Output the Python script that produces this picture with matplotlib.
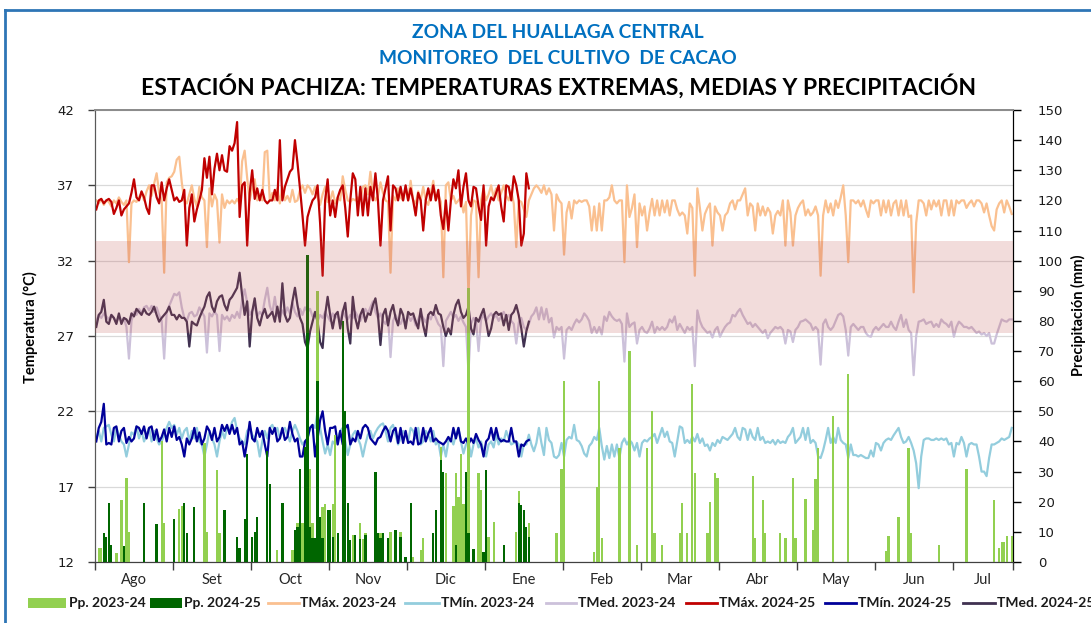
import matplotlib
matplotlib.use("Agg")
import matplotlib.pyplot as plt
from matplotlib.lines import Line2D
from matplotlib.patches import Rectangle
from matplotlib.transforms import blended_transform_factory

# ---------------- DATA ----------------
MONTHS = ["Ago", "Set", "Oct", "Nov", "Dic", "Ene", "Feb", "Mar", "Abr", "May", "Jun", "Jul"]
N_DAYS = 365
DAYS_PER_TICK = 31
BAND_TEMP = (27.2, 33.3)

TITLE_1 = "ZONA DEL HUALLAGA CENTRAL"
TITLE_2 = "MONITOREO  DEL CULTIVO  DE CACAO"
TITLE_3 = "ESTACIÓN PACHIZA: TEMPERATURAS EXTREMAS, MEDIAS Y PRECIPITACIÓN"

TMAX_23 = [
    36.0, 35.8, 36.1, 35.7, 36.0, 35.9, 35.6, 36.0, 35.8, 36.2,
    35.9, 35.7, 36.0, 31.9, 35.8, 36.0, 35.9, 36.2, 36.5, 36.0,
    36.6, 37.0, 36.3, 37.1, 37.8, 36.5, 36.0, 31.2, 37.2, 37.5,
    37.6, 37.9, 38.7, 38.9, 37.2, 36.0, 35.8, 36.4, 37.0, 36.1,
    35.6, 36.9, 36.2, 36.0, 32.9, 36.8, 35.6, 36.4, 36.0, 33.2,
    36.4, 35.5, 36.0, 35.8, 36.0, 35.8, 36.1, 35.8, 38.6, 39.3,
    37.5, 36.0, 36.8, 37.4, 36.0, 36.4, 36.0, 39.2, 39.3, 36.0,
    36.5, 36.0, 36.8, 35.8, 36.9, 36.0, 36.3, 35.9, 36.7, 35.9,
    36.0, 36.7, 37.0, 36.5, 37.0, 36.8, 36.4, 36.9, 36.2, 35.7,
    36.4, 36.9, 35.9, 36.0, 36.6, 35.8, 36.2, 36.0, 37.6, 36.7,
    36.0, 35.9, 36.1, 36.0, 36.2, 36.0, 36.9, 37.0, 36.4, 37.9,
    36.4, 36.0, 36.3, 37.2, 36.5, 36.0, 35.9, 31.2, 36.3, 36.0,
    36.8, 36.2, 36.0, 36.9, 36.0, 37.3, 36.0, 35.8, 36.6, 36.0,
    36.9, 36.0, 35.7, 36.5, 37.3, 36.0, 36.4, 35.9, 30.9, 37.0,
    37.2, 36.0, 36.3, 35.8, 36.0, 36.2, 35.2, 35.9, 29.6, 35.0,
    36.0, 35.9, 30.9, 36.0, 36.8, 36.0, 36.4, 37.0, 36.2, 36.8,
    36.0, 36.5, 37.0, 36.3, 36.0, 36.6, 35.8, 32.9, 36.0, 35.9,
    35.4, 34.9, 36.0, 36.4, 36.8, 37.0, 36.8, 36.5, 37.0, 36.4,
    36.8, 36.4, 34.0, 36.4, 36.0, 35.8, 32.4, 35.2, 35.9, 34.8,
    36.0, 35.8, 36.0, 35.9, 36.0, 36.0, 35.6, 34.0, 35.6, 34.0,
    35.8, 34.0, 36.0, 36.0, 36.2, 37.0, 36.0, 35.8, 36.0, 36.0,
    31.9, 37.0, 34.9, 35.5, 36.4, 32.9, 35.8, 35.0, 35.6, 34.0,
    35.2, 36.1, 35.0, 36.0, 35.0, 36.0, 35.2, 36.0, 35.0, 36.0,
    36.0, 35.4, 35.0, 35.2, 35.0, 33.8, 35.8, 35.5, 31.0, 36.8,
    35.5, 34.0, 35.1, 35.5, 35.8, 33.0, 35.6, 35.2, 35.0, 34.0,
    35.0, 35.2, 35.8, 36.0, 35.4, 36.0, 36.0, 36.4, 36.8, 35.0,
    35.8, 35.6, 34.0, 35.8, 35.0, 35.6, 35.0, 35.5, 35.2, 33.8,
    35.0, 35.3, 35.0, 36.0, 33.0, 36.0, 35.2, 33.0, 35.0, 35.5,
    35.8, 36.0, 35.0, 35.4, 35.0, 35.2, 35.6, 35.0, 31.0, 35.0,
    36.0, 35.2, 35.8, 35.0, 36.0, 35.5, 36.2, 37.0, 35.0, 31.9,
    36.0, 36.0, 35.8, 36.0, 35.6, 36.0, 35.4, 34.9, 36.0, 35.8,
    36.0, 36.0, 35.0, 36.0, 35.2, 36.0, 35.0, 35.8, 36.0, 35.0,
    36.0, 35.0, 36.0, 34.9, 35.0, 29.9, 34.5, 36.0, 36.0, 35.8,
    35.0, 36.0, 35.4, 36.0, 35.6, 36.0, 35.0, 36.0, 36.0, 35.0,
    36.0, 35.0, 36.0, 35.8, 36.0, 36.0, 35.5, 35.8, 36.0, 35.6,
    36.0, 36.0, 35.8, 35.2, 35.8, 35.0, 34.3, 34.0, 35.4, 35.8,
    36.0, 35.2, 36.0, 35.6, 35.1,
]

TMIN_23 = [
    20.2, 20.7, 20.0, 20.9, 21.0, 21.1, 20.45, 20.0, 20.9, 20.45,
    20.0, 19.8, 19.0, 19.8, 20.6, 20.45, 21.0, 20.2, 20.7, 20.0,
    20.45, 20.9, 20.0, 20.7, 20.2, 19.8, 20.0, 20.45, 20.9, 21.3,
    20.9, 21.1, 20.45, 20.9, 20.2, 20.7, 20.9, 20.0, 20.7, 20.2,
    20.9, 20.0, 19.8, 19.0, 19.8, 20.7, 20.2, 19.8, 19.0, 20.0,
    20.7, 20.2, 20.9, 20.7, 21.3, 21.56, 20.7, 20.2, 20.0, 19.8,
    20.7, 20.9, 20.45, 20.2, 20.0, 19.0, 20.0, 20.7, 20.2, 20.9,
    21.1, 20.7, 20.9, 20.2, 20.7, 20.9, 20.45, 20.0, 20.7, 21.1,
    20.7, 20.2, 19.8, 20.0, 20.2, 20.9, 21.1, 20.9,
    22.0, 20.9, 20.0, 19.2, 19.8, 19.1, 20.0, 19.8, 20.2, 20.7,
    20.9, 20.0, 19.1, 19.8, 20.45, 20.7, 20.2, 19.8, 19.0, 19.8,
    20.45, 20.7, 20.2, 20.6, 20.9, 21.1, 21.2, 20.7, 20.0, 20.9,
    21.1, 20.45, 19.8, 20.2, 20.7, 20.45, 20.0, 20.9, 20.7, 20.2,
    20.9, 19.8, 20.0, 20.7, 20.45, 20.0, 20.7, 19.8, 20.0, 19.0,
    19.8, 19.0, 20.0, 20.2, 19.8, 20.45, 20.9, 20.0, 19.2, 19.8,
    20.0, 19.0, 19.8, 20.2, 19.6, 20.0, 19.35, 19.0, 19.8, 20.0,
    19.6, 20.45, 19.8, 20.2, 20.0, 20.7, 20.2, 19.8, 19.9, 20.0,
    19.8, 19.0, 19.8, 19.8, 20.45, 19.8, 19.35,
    19.9, 20.9, 19.9, 19.1, 20.9, 20.1, 19.9, 19.0, 18.9, 19.1,
    19.9, 19.0, 20.1, 20.3, 20.2, 21.1, 20.1, 20.0, 19.7, 19.2,
    19.0, 19.7, 19.9, 20.3, 20.1, 20.9, 19.7, 18.8, 19.7, 18.9,
    19.8, 19.0, 19.8, 18.9, 19.9, 20.2, 19.8, 20.1, 19.9, 19.4,
    19.9, 19.0, 19.9, 20.1, 20.0, 20.2, 20.3, 20.5, 19.9, 20.4,
    20.9, 20.3, 20.65, 20.0, 19.9, 19.0, 20.0, 21.0, 20.9, 19.9,
    20.1, 19.9, 20.3, 20.0, 20.5, 19.9, 20.2,
    19.7, 19.8, 19.4, 19.9, 19.7, 20.1, 19.9, 20.3, 20.2, 20.1,
    20.3, 20.5, 20.9, 20.3, 20.1, 20.9, 20.8, 20.1, 20.8, 20.3,
    20.1, 20.9, 20.1, 20.3, 19.9, 20.0, 19.9, 20.1, 19.8, 20.1,
    19.9, 20.0, 19.9, 20.3, 20.5, 20.9, 19.9, 20.1, 20.3, 20.9,
    20.1, 20.9, 19.9, 20.1, 19.9, 19.0, 18.9, 19.4, 20.1, 20.9,
    19.9, 20.3, 19.9, 20.9, 20.1, 19.9, 19.8, 18.9, 19.8, 19.1,
    19.1, 19.0, 19.1, 19.0, 18.9, 18.9, 19.4, 19.0, 19.9, 19.8,
    19.4, 19.9, 20.1, 20.2, 20.1, 20.4, 20.65, 20.9, 20.3, 19.9,
    20.0, 20.3, 19.9, 19.4, 18.55, 16.9, 19.0, 20.1, 20.2, 20.2,
    20.1, 20.1, 20.2, 20.1, 20.2, 20.1, 20.2, 19.8, 19.9, 19.0,
    19.9, 19.8, 20.3, 19.9, 19.0, 19.8, 19.9, 19.8, 19.8, 19.0,
    18.0, 18.0, 17.7, 18.9, 19.8, 19.8, 19.9, 20.0, 20.2, 20.1,
    20.2, 20.3, 20.9,
]

TMED_23 = [
    28.0, 28.4, 28.2, 28.5, 28.3, 28.1, 28.4, 28.2, 27.9, 28.3,
    28.0, 28.2, 27.6, 25.5, 28.0, 28.6, 28.4, 28.8, 28.5, 28.9,
    29.0, 28.7, 29.0, 28.6, 28.9, 28.4, 28.0, 25.5, 28.6, 29.0,
    29.4, 29.8, 29.7, 29.9, 28.9, 28.2, 28.0, 28.5, 28.6, 28.3,
    28.4, 28.9, 28.6, 28.3, 25.9, 28.5, 28.3, 28.6, 28.4, 26.0,
    28.4, 28.1, 28.3, 28.0, 28.4, 28.2, 28.6, 28.2, 29.4, 30.1,
    29.2, 28.4, 28.7, 29.0, 28.3, 28.6, 28.4, 29.4, 30.2, 29.0,
    28.5, 29.6, 28.4, 28.2, 28.7, 28.4, 28.9, 28.5, 29.2, 28.6,
    28.3, 28.8, 28.4, 28.9, 28.6, 28.8, 28.3, 28.5, 28.0, 28.4,
    28.2, 28.6, 28.3, 28.0, 28.5, 28.2, 28.4, 27.9, 28.7, 28.3,
    28.1, 28.4, 28.2, 28.6, 28.3, 28.0, 28.4, 28.8, 28.5, 28.9,
    29.3, 28.6, 28.2, 28.5, 28.0, 27.8, 28.3, 25.6, 28.0, 28.4,
    28.0, 27.8, 28.2, 27.9, 28.4, 28.0, 28.3, 27.7, 28.1, 28.5,
    28.2, 27.9, 28.4, 28.1, 28.6, 28.2, 27.8, 27.6, 25.0, 28.0,
    28.3, 28.6, 28.2, 28.4, 28.0, 28.3, 27.9, 27.6, 24.6, 27.8,
    28.2, 28.0, 26.0, 28.1, 28.4, 28.0, 28.3, 28.5, 28.2, 28.4,
    28.0, 28.3, 28.6, 28.2, 28.4, 28.0, 27.8, 26.5, 27.9, 28.2,
    27.6, 27.4, 27.8, 28.3, 28.5, 28.9,
    28.1, 28.9, 28.1, 28.8, 27.9, 28.2, 26.9, 27.6, 27.4, 27.6,
    25.5, 27.4, 27.6, 27.4, 27.8, 28.1, 27.9, 28.1, 28.5, 28.3,
    28.0, 27.2, 27.6, 27.2, 27.6, 27.1, 28.3, 28.0, 28.6, 28.3,
    28.1, 28.0, 28.1, 27.8, 25.3, 28.5, 27.6, 27.8, 27.9, 26.5,
    27.4, 27.6, 27.3, 27.2, 27.5, 27.95, 27.2, 27.6, 27.4, 27.6,
    27.4, 27.6, 28.1, 27.9, 28.3, 27.4, 27.8, 27.5, 27.2, 27.6,
    27.4, 27.6, 25.0, 28.7, 28.0, 27.6, 27.4, 27.2, 27.3, 26.9,
    27.4, 27.6, 26.95, 27.3, 27.6, 27.8, 27.9, 28.4, 28.3, 28.6,
    28.8, 28.4, 28.1, 27.8, 27.9, 27.6, 27.8, 27.6, 27.4, 27.2,
    27.4, 26.85, 27.2, 27.4, 27.6, 27.5, 27.6, 27.4, 26.5, 27.4,
    27.3, 26.6, 27.4, 27.6, 27.95, 28.0, 28.1, 27.95, 27.8, 27.4,
    27.6, 27.4, 25.1, 27.8, 28.1, 27.6, 27.4, 27.6, 28.0, 28.4,
    28.5, 28.3, 27.4, 25.7, 27.6, 27.8, 27.6, 27.4, 27.6, 27.6,
    27.2, 27.0, 26.95, 27.4, 27.6, 27.4, 27.6, 27.8, 27.6, 27.6,
    27.95, 27.6, 27.4, 27.95, 28.4, 27.6, 28.1, 27.4, 27.2, 24.4,
    27.0, 27.95, 28.0, 28.1, 27.8, 27.9, 27.95, 27.6, 27.8, 27.6,
    28.1, 27.9, 27.8, 27.6, 27.95, 26.95, 27.6, 27.95, 27.8, 27.6,
    27.6, 27.5, 27.6, 27.4, 27.2, 27.3, 27.1, 27.2, 27.0, 27.2,
    26.5, 26.5, 27.1, 27.6, 28.1, 28.0, 27.95, 28.1, 28.1,
]

TMAX_24 = [
    35.4, 36.0, 36.1, 35.8, 36.0, 36.1, 35.9, 35.1, 35.5, 36.0,
    35.0, 35.4, 35.6, 35.8, 36.5, 37.4, 36.2, 36.0, 36.6, 36.2,
    35.5, 35.1, 37.0, 37.0, 36.2, 35.8, 37.2, 36.0, 36.8, 37.4,
    36.7, 36.0, 36.2, 35.9, 36.0, 36.7, 33.0, 35.5, 36.4, 34.6,
    35.4, 36.0, 36.7, 38.8, 37.5, 38.9, 36.4, 38.1, 39.1, 38.0,
    39.0, 38.0, 37.9, 39.6, 39.3, 39.8, 41.2, 34.9, 37.0, 37.2,
    33.0, 36.5, 38.0, 36.1, 36.8, 36.0, 36.7, 36.0, 35.8, 36.0,
    36.0, 36.7, 36.0, 40.0, 36.0, 36.9, 37.4, 37.9, 38.1, 40.0,
    38.5, 36.8, 35.0, 33.0, 34.9, 35.5, 36.0, 36.2, 37.0, 34.5,
    31.0, 36.0, 37.4, 35.0, 36.0, 34.9, 36.2, 36.7, 37.0, 35.5,
    33.6, 36.0, 37.8, 37.4, 35.0, 36.9, 35.0, 36.8, 35.0, 36.9,
    36.0, 37.8, 36.0, 33.0, 36.0, 36.8, 37.6, 34.0, 37.0, 36.8,
    36.0, 36.9, 36.0, 37.0, 36.0, 36.8, 36.0, 35.0, 36.5, 36.0,
    34.0, 36.0, 36.8, 36.0, 37.0, 36.0, 36.7, 35.0, 34.1, 36.0,
    34.0, 36.0, 37.4, 36.8, 38.0, 35.6, 36.9, 37.8, 36.0, 35.6,
    36.9, 36.8, 35.6, 34.7, 37.0, 33.0, 35.6, 36.2, 36.0, 36.5,
    37.0, 35.6, 34.6, 37.0, 36.9, 36.0, 37.6, 37.0, 36.0, 33.0,
    33.8, 37.8, 36.8,
]

TMIN_24 = [
    20.0, 20.9, 21.3, 22.5, 19.8, 19.9, 19.8, 20.9, 21.0, 20.0,
    20.7, 20.9, 19.9, 20.3, 20.0, 20.2, 21.0, 20.9, 20.5, 21.0,
    20.2, 20.9, 21.0, 20.1, 20.8, 20.0, 20.3, 20.8, 20.0, 20.9,
    20.3, 21.0, 20.1, 20.3, 19.8, 19.0, 20.2, 19.8, 20.2, 20.9,
    20.0, 20.6, 19.8, 20.2, 21.0, 20.7, 20.1, 20.9, 20.0, 20.3,
    21.1, 20.7, 21.1, 20.5, 21.1, 20.5, 20.9, 19.8, 20.0, 19.0,
    20.0, 21.3, 20.2, 20.0, 20.9, 20.3, 20.7, 19.8, 19.0, 20.9,
    20.5, 20.9, 20.0, 20.2, 20.9, 20.1, 20.3, 21.3, 20.5, 20.0,
    20.2, 19.0, 19.0, 20.0, 20.2, 20.9, 21.1,
    19.0, 20.2, 21.4, 22.0, 20.7, 19.8, 20.9, 20.9, 21.0, 19.8,
    20.7, 19.8, 20.9, 21.1, 19.8, 20.2, 20.0, 20.7, 20.2, 20.9,
    21.1, 20.9, 20.2, 20.0, 19.8, 20.2, 20.3, 20.7, 21.0, 20.7,
    20.0, 20.7, 20.9, 19.9, 20.9, 19.9, 20.7, 19.9, 20.0, 19.8,
    20.9, 19.8, 19.9, 20.9, 20.0, 20.5, 20.9, 20.0, 20.2, 20.0,
    19.9, 19.8, 20.0, 20.3, 20.0, 20.9, 20.2, 20.9, 20.0, 19.9,
    20.2, 19.8, 20.2, 19.9, 20.5, 20.1, 19.8, 19.0, 20.0, 20.2,
    20.9, 20.1, 20.9, 20.2, 20.0, 20.1, 20.0, 20.0, 20.9, 20.0,
    20.0, 19.0, 19.8, 19.7, 20.0, 20.1,
]

TMED_24 = [
    27.6, 28.4, 28.6, 29.4, 27.95, 27.8, 28.4, 28.2, 27.8, 28.5,
    27.8, 28.2, 28.1, 27.8, 28.5, 28.3, 28.8, 28.6, 28.4, 28.8,
    28.5, 28.4, 28.6, 28.95, 28.4, 27.95, 28.2, 28.4, 28.6, 28.95,
    28.4, 28.4, 28.1, 28.4, 28.2, 28.2, 27.95, 26.3, 27.95, 27.8,
    27.7, 28.2, 28.6, 28.95, 29.6, 29.9, 28.95, 28.6, 29.3, 29.6,
    29.7, 29.06, 28.7, 29.4, 29.6, 29.9, 30.2, 31.2, 29.7, 28.4,
    29.3, 26.3, 28.6, 29.5, 28.2, 27.7, 28.4, 28.8, 28.2, 28.4,
    28.6, 27.95, 28.95, 27.95, 30.5, 28.4, 27.95, 28.2, 29.3, 30.2,
    29.06, 28.2, 27.8, 26.6, 26.2, 27.3, 27.95, 28.6,
    27.95, 26.6, 26.2, 28.4, 29.6, 28.4, 27.5, 28.4, 28.6, 27.5,
    28.6, 29.2, 27.5, 26.5, 29.6, 28.2, 27.5, 28.4, 28.8, 27.95,
    28.5, 28.4, 29.06, 29.5, 28.4, 26.4, 28.4, 28.8, 27.7, 28.6,
    29.06, 28.2, 27.7, 28.8, 28.4, 27.5, 28.6, 28.4, 28.5, 27.95,
    27.5, 28.8, 27.7, 27.0, 28.4, 28.6, 28.4, 29.06, 28.5, 28.4,
    27.6, 27.0, 27.5, 27.1, 28.4, 29.06, 29.4, 28.6, 28.2, 28.4,
    28.95, 27.5, 27.1, 28.2, 27.95, 28.4, 28.8, 27.95, 27.0, 27.5,
    28.4, 28.6, 28.4, 28.5, 27.7, 28.4, 27.4, 28.4, 28.6, 29.06,
    28.4, 27.5, 26.3, 27.3, 27.95,
]

# precipitation (mm): day index of the season and amount
PP23_DAYS = [1, 2, 6, 8, 10, 12, 13, 26, 27, 33, 34, 43, 44, 48, 49, 72, 78, 80, 82, 85,
             86, 88, 90, 91, 92, 94, 95, 96, 102, 103, 105, 106, 107, 113, 117, 121, 126, 129, 130, 137,
             138, 139, 142, 143, 144, 145, 146, 147, 148, 152, 153, 156, 158, 167, 168, 172, 183, 185, 186, 198,
             199, 200, 201, 208, 212, 215, 219, 221, 222, 225, 232, 233, 235, 237, 238, 243, 244, 246, 247, 261,
             262, 265, 266, 272, 274, 277, 278, 282, 285, 286, 287, 293, 299, 314, 315, 319, 323, 324, 335, 346,
             357, 359, 360, 361, 362, 364]
PP23_MM = [4.5, 4.5, 5.5, 2.9, 20.6, 27.8, 10.0, 40.0, 12.8, 17.5, 18.5, 39.5, 10.0, 30.5, 9.5, 4.0, 4.0, 12.8, 12.8, 31.0,
           12.8, 90.0, 18.3, 19.4, 10.0, 19.4, 42.0, 6.2, 9.0, 9.0, 12.8, 7.5, 9.5, 9.5, 10.0, 9.8, 1.8, 4.0, 7.9, 38.0,
           29.7, 29.7, 18.5, 29.7, 21.6, 35.7, 19.4, 19.4, 91.0, 29.5, 24.0, 8.4, 13.4, 10.0, 23.7, 12.8, 9.5, 31.0, 60.0, 3.4,
           25.0, 60.0, 7.9, 37.7, 70.0, 5.6, 37.7, 50.0, 9.7, 5.6, 9.7, 19.6, 9.7, 59.0, 29.7, 9.7, 19.8, 29.7, 28.0, 28.7,
           7.9, 20.6, 9.7, 9.7, 7.9, 27.8, 7.9, 20.8, 10.6, 27.4, 37.7, 48.5, 62.4, 3.7, 8.7, 14.8, 37.7, 9.7, 5.6, 31.0,
           20.5, 4.5, 6.7, 6.7, 8.7, 8.7]

PP24_DAYS = [3, 4, 5, 6, 11, 19, 24, 31, 35, 36, 39, 51, 56, 57, 59, 60, 62, 63, 64, 68,
             69, 74, 79, 80, 81, 83, 84, 85, 86, 87, 88, 89, 90, 92, 93, 94, 96, 98, 99, 100,
             101, 103, 105, 107, 111, 112, 113, 114, 116, 119, 121, 123, 125, 134, 135, 137, 138, 143, 147, 148,
             150, 154, 155, 162, 168, 169, 170, 171, 172]
PP24_MM = [9.5, 8.4, 19.6, 5.6, 5.3, 19.6, 12.7, 14.2, 19.6, 9.5, 18.3, 17.2, 8.4, 4.5, 14.4, 36.0, 8.4, 10.0, 15.0, 37.0,
           26.0, 19.5, 10.5, 11.7, 31.0, 38.0, 102.0, 11.7, 7.9, 7.9, 60.0, 15.0, 7.9, 17.2, 17.2, 8.4, 9.5, 80.0, 50.0, 19.6,
           7.3, 9.0, 7.5, 9.0, 30.0, 9.5, 7.9, 9.5, 7.9, 10.6, 8.4, 1.8, 19.6, 9.5, 17.2, 34.0, 30.0, 5.6, 30.0, 9.5,
           4.2, 3.4, 30.5, 5.6, 19.7, 18.9, 17.2, 11.7, 8.4]

# ---------------- STYLE ----------------
W, H = 1091, 623
C_PP23 = "#92D050"
C_PP24 = "#006600"
C_TMAX23 = "#FAC090"
C_TMIN23 = "#93CDDD"
C_TMED23 = "#CCC1DA"
C_TMAX24 = "#C00000"
C_TMIN24 = "#000099"
C_TMED24 = "#403151"
C_BLUE_T = "#0070C0"
FONT = "Lato"

fig = plt.figure(figsize=(W / 100, H / 100), dpi=100)
fig.patch.set_facecolor("white")

left, right, top, bottom = 95, 1013, 110, 562
ax = fig.add_axes([left / W, 1 - bottom / H, (right - left) / W, (bottom - top) / H])
ax2 = ax.twinx()

ax.set_axisbelow(True)
ax.plot(range(len(TMAX_23)), TMAX_23, color=C_TMAX23, lw=1.6, zorder=2)
ax.plot(range(len(TMIN_23)), TMIN_23, color=C_TMIN23, lw=1.6, zorder=2)
ax.plot(range(len(TMED_23)), TMED_23, color=C_TMED23, lw=1.6, zorder=2)
ax.plot(range(len(TMAX_24)), TMAX_24, color=C_TMAX24, lw=1.6, zorder=3)
ax.plot(range(len(TMIN_24)), TMIN_24, color=C_TMIN24, lw=1.6, zorder=3)
ax.plot(range(len(TMED_24)), TMED_24, color=C_TMED24, lw=1.6, zorder=3)

ax2.bar(PP23_DAYS, PP23_MM, width=0.9, color=C_PP23, zorder=2, linewidth=0)
ax2.bar(PP24_DAYS, PP24_MM, width=0.9, color=C_PP24, zorder=3, linewidth=0)

# translucent band on top of everything
trans = blended_transform_factory(ax2.transAxes, ax.transData)
ax2.add_patch(Rectangle((0, BAND_TEMP[0]), 1, BAND_TEMP[1] - BAND_TEMP[0], transform=trans,
                        facecolor="#C0504D", alpha=0.2, edgecolor="none", zorder=10))

ax.set_xlim(-0.5, N_DAYS - 0.5)
ax.set_ylim(12, 42)
ax2.set_ylim(0, 150)
ax.set_yticks(range(12, 43, 5))
ax2.set_yticks(range(0, 151, 10))

ax.grid(axis="y", color="#D9D9D9", lw=0.9)
ax.grid(axis="x", visible=False)

major = [-0.5 + DAYS_PER_TICK * k for k in range(len(MONTHS))] + [N_DAYS - 0.5]
centers = [(major[k] + major[k + 1]) / 2 for k in range(len(MONTHS))]
ax.set_xticks(major)
ax.set_xticklabels([])
ax.set_xticks(centers, minor=True)
ax.set_xticklabels(MONTHS, minor=True, fontfamily=FONT, fontsize=10.5, color="#262626")
ax.tick_params(axis="x", which="minor", length=0, pad=8)
ax.tick_params(axis="x", which="major", length=6, width=1, color="#404040", direction="out")

ax.tick_params(axis="y", length=5, width=1, color="#404040", labelsize=9.5, labelcolor="#1a1a1a", pad=10)
ax2.tick_params(axis="y", length=6, width=1, color="#000000", labelsize=9.5, labelcolor="#1a1a1a", pad=12)
for lab in ax.get_yticklabels() + ax2.get_yticklabels():
    lab.set_fontfamily("DejaVu Sans")

for a in (ax, ax2):
    a.spines["top"].set_color("#8C8C8C")
    a.spines["top"].set_linewidth(1.3)
    a.spines["left"].set_color("#595959")
    a.spines["bottom"].set_color("#404040")
    a.spines["right"].set_color("#000000")

ax.set_ylabel("Temperatura (°C)", fontfamily=FONT, fontweight="bold", fontsize=10.5, color="black")
ax.yaxis.set_label_coords(-0.062, 0.52)
ax2.set_ylabel("Precipitación (mm)", fontfamily=FONT, fontweight="bold", fontsize=10.5, color="black")
ax2.yaxis.set_label_coords(1.063, 0.545)

# titles
fig.text(558 / W, 1 - 33 / H, TITLE_1, ha="center", va="center", fontfamily=FONT,
         fontweight="bold", fontsize=13.8, color=C_BLUE_T)
fig.text(558 / W, 1 - 58 / H, TITLE_2, ha="center", va="center", fontfamily=FONT,
         fontweight="bold", fontsize=13.8, color=C_BLUE_T)
fig.text(559 / W, 1 - 86 / H, TITLE_3, ha="center", va="center", fontfamily=FONT,
         fontweight="bold", fontsize=16.5, color="black")

# border of chart area (blue)
fig.add_artist(Line2D([5 / W, 1], [1 - 10 / H, 1 - 10 / H], transform=fig.transFigure, color="#2E75B6", lw=2))
fig.add_artist(Line2D([5 / W, 5 / W], [0, 1 - 10 / H], transform=fig.transFigure, color="#2E75B6", lw=2))

# legend (manual, single row, as in the original; last entry runs to the edge like the original)
LEG_Y = 1 - 603 / H
legend_items = [
    ("Pp. 2023-24", "bar", C_PP23, 28, 66, 69),
    ("Pp. 2024-25", "bar", C_PP24, 150, 182, 184),
    ("TMáx. 2023-24", "line", C_TMAX23, 268, 299, 300),
    ("TMín. 2023-24", "line", C_TMIN23, 405, 439, 441),
    ("TMed. 2023-24", "line", C_TMED23, 546, 576, 578),
    ("TMáx. 2024-25", "line", C_TMAX24, 686, 717, 719),
    ("TMín. 2024-25", "line", C_TMIN24, 825, 856, 858),
    ("TMed. 2024-25", "line", C_TMED24, 963, 995, 997),
]
for label, kind, color, x0, x1, xt in legend_items:
    if kind == "bar":
        fig.add_artist(Rectangle((x0 / W, LEG_Y - 5 / H), (x1 - x0) / W, 10 / H,
                                 transform=fig.transFigure, facecolor=color, edgecolor="none"))
    else:
        fig.add_artist(Line2D([x0 / W, x1 / W], [LEG_Y, LEG_Y], transform=fig.transFigure,
                              color=color, lw=2))
    fig.text(xt / W, LEG_Y, label, ha="left", va="center", fontfamily=FONT, fontweight="bold",
             fontsize=10, color="#1a1a1a")

fig.savefig("out.png", dpi=100)
